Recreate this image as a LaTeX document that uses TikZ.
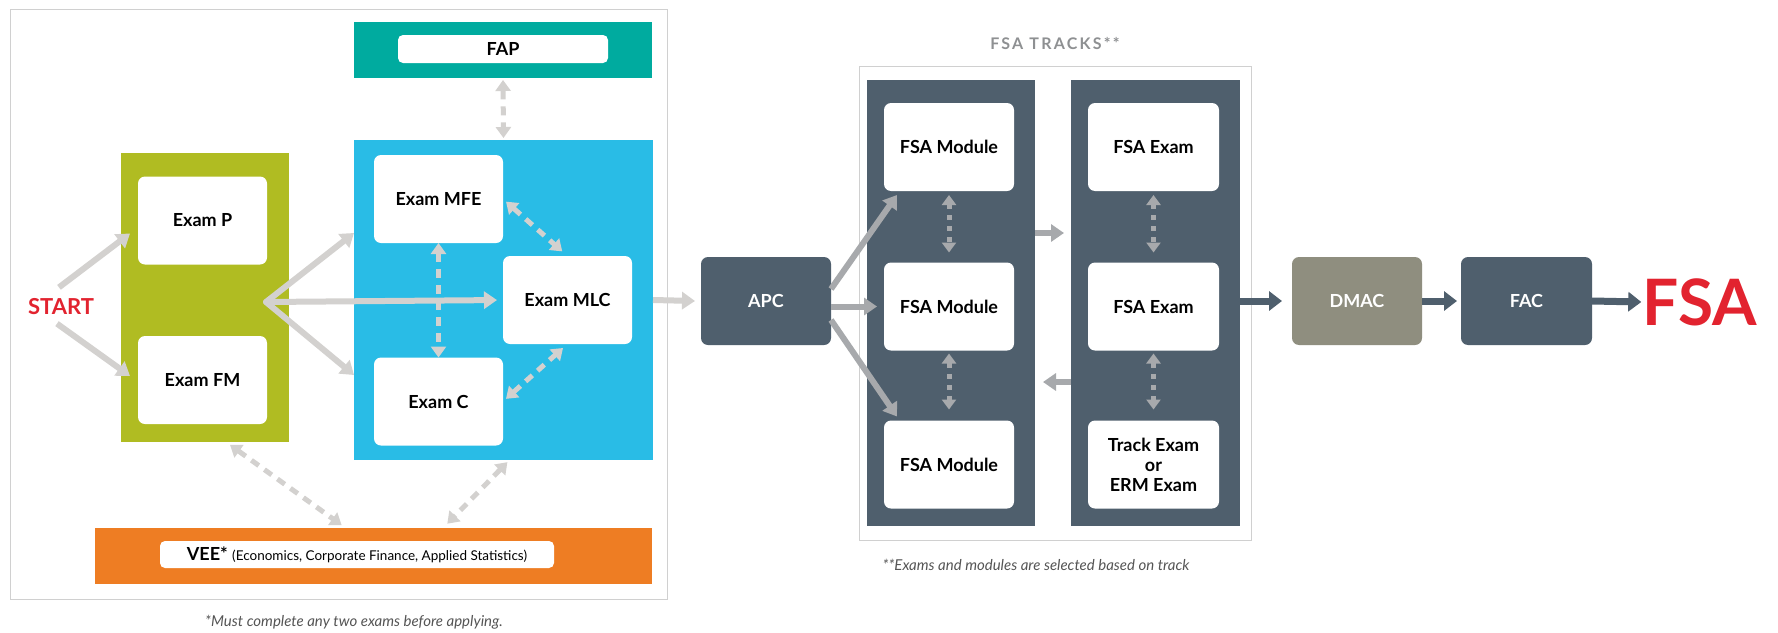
\documentclass[tikz,border=0pt]{standalone}
\usepackage{fontspec}
\setmainfont{Lato}
\usetikzlibrary{positioning}
\usetikzlibrary{arrows.meta}
\usetikzlibrary{calc}

\definecolor{limegreen}{HTML}{B0BC22}
\definecolor{skyblue}{HTML}{29BCE6}
\definecolor{fapteal}{HTML}{00AB9F}
\definecolor{veeorange}{HTML}{EE7D23}
\definecolor{slate}{HTML}{4F5F6D}
\definecolor{dmacgrey}{HTML}{8F8E7F}
\definecolor{lightarrow}{HTML}{D3D1CF}
\definecolor{trackarrow}{HTML}{A7A9AC}
\definecolor{fsared}{HTML}{E2232F}
\definecolor{framegrey}{HTML}{D0D0D0}
\definecolor{notegrey}{HTML}{555555}

\tikzset{
  panel/.style={inner sep=0pt, outer sep=0pt},
  exambox/.style={fill=white, rounded corners=7pt, inner sep=0pt, outer sep=0pt,
    minimum width=129pt, minimum height=88pt, align=center,
    font=\fontsize{18}{21}\selectfont\bfseries},
  darkbox/.style={exambox, fill=slate, text=white, minimum width=130pt},
  flow/.style={draw=lightarrow, line width=6pt, -{Triangle[width=17pt,length=13pt]}},
  dflow/.style={draw=lightarrow, line width=5pt, dash pattern=on 9pt off 7pt,
    {Triangle[width=15pt,length=11pt]}-{Triangle[width=15pt,length=11pt]}},
  trackflow/.style={draw=trackarrow, line width=6pt, -{Triangle[width=17pt,length=13pt]}},
  dotflow/.style={draw=trackarrow, line width=5pt, dash pattern=on 5pt off 6pt,
    {Triangle[width=14pt,length=10pt]}-{Triangle[width=14pt,length=10pt]}},
  darkflow/.style={draw=slate, line width=7pt, -{Triangle[width=19pt,length=13pt]}},
  note/.style={text=notegrey, font=\fontsize{15}{18}\selectfont\itshape}
}

\begin{document}
\begin{tikzpicture}[x=1pt, y=-1pt]
  \useasboundingbox (0,0) rectangle (1778,632);
  \fill[white] (0,0) rectangle (1778,632);

  % associate part
  \draw[framegrey, line width=1pt] (10,9) rectangle (667,599);
  \node[panel, fill=fapteal, minimum width=298pt, minimum height=56pt] (fapbar) at (503,50) {};
  \node[exambox, minimum width=210pt, minimum height=28pt, rounded corners=5pt] (fap) at (503,49) {FAP};
  \node[panel, fill=skyblue, minimum width=299pt, minimum height=320pt] (blue) at (503.5,300) {};
  \node[panel, fill=limegreen, minimum width=168pt, minimum height=289pt] (green) at (205,297.5) {};
  \node[panel, fill=veeorange, minimum width=557pt, minimum height=56pt] (orange) at (373.5,556) {};
  \node[exambox, minimum width=394pt, minimum height=27pt, rounded corners=5pt] (vee) at (357,554.5)
    {VEE* {\mdseries\fontsize{13.5}{16}\selectfont(Economics, Corporate Finance, Applied Statistics)}};

  \node[exambox] (examp) at (202.5,220.5) {Exam P};
  \node[exambox] (examfm) at (202.5,380) {Exam FM};
  \node[exambox] (mfe) at (438.5,199) {Exam MFE};
  \node[exambox] (examc) at (438.5,401.5) {Exam C};
  \node[exambox] (mlc) at (567.5,300) {Exam MLC};
  \node[text=fsared, font=\fontsize{22}{26}\selectfont\bfseries] (start) at (61,307) {START};

  \coordinate (fan) at (266,302);
  \draw[flow] ($(start.north)+(-2,-8)$) -- ($(examp.south west)+(-8,-31)$);
  \draw[flow] ($(start.south)+(-4,5)$) -- ($(examfm.west)+(-8,-4)$);
  \draw[flow, line cap=round] (fan) -- (blue.west |- 0,233);
  \draw[flow, line cap=round] (fan) -- (blue.west |- 0,375);
  \draw[flow, shorten >=6pt] (fan) -- (mlc.west);

  \draw[dflow] (mfe.south) -- (examc.north);
  \draw[dflow, shorten <=4pt, shorten >=7pt] (mfe.east) -- (mlc.north);
  \draw[dflow, shorten <=4pt, shorten >=6pt] (examc.east) -- (mlc.south);
  \draw[dflow, shorten <=2pt, shorten >=2pt] (fapbar.south) -- (blue.north);
  \draw[dflow, shorten <=5pt, shorten >=5pt] ($(green.south)!0.25!(green.south east)$)
    -- ($(orange.north west)!0.45!(orange.north east)$);
  \draw[dflow, shorten <=3pt, shorten >=6pt] ($(blue.south west)!0.52!(blue.south east)$)
    -- ($(orange.north west)!0.625!(orange.north east)$);

  \node[note] (note1) at (354,622) {*Must complete any two exams before applying.};

  % fellowship part
  \node[darkbox] (apc) at (766,301) {APC};
  \draw[flow] (blue.east |- mlc) -- ($(apc.west)+(-6,0)$);

  \node[text=trackarrow!85!black, font=\fontsize{16}{19}\selectfont\bfseries\addfontfeatures{LetterSpace=14}] (tracks) at (1055,43) {FSA TRACKS**};
  \draw[framegrey, line width=1pt] (859,66) rectangle (1251,540);
  \node[panel, fill=slate, minimum width=168pt, minimum height=446pt] (modcol) at (951,303) {};
  \node[panel, fill=slate, minimum width=169pt, minimum height=446pt] (excol) at (1155.5,303) {};

  \node[exambox, minimum width=130pt] (mod1) at (949,147) {FSA Module};
  \node[exambox, minimum width=130pt] (mod2) at (949,306.5) {FSA Module};
  \node[exambox, minimum width=130pt] (mod3) at (949,464.5) {FSA Module};
  \node[exambox, minimum width=131pt] (ex1) at (1153.5,147) {FSA Exam};
  \node[exambox, minimum width=131pt] (ex2) at (1153.5,306.5) {FSA Exam};
  \node[exambox, minimum width=131pt, font=\fontsize{18}{20}\selectfont\bfseries] (ex3) at (1153.5,464.5) {Track Exam\\or\\ERM Exam};

  \draw[trackflow] ($(apc.east)+(0,-12)$) -- ($(mod1.south west)+(13,4)$);
  \draw[trackflow, shorten >=7pt] (apc.east |- mod2) -- (mod2.west);
  \draw[trackflow] ($(apc.east)+(0,19)$) -- ($(mod3.north west)+(13,-4)$);

  \draw[dotflow, shorten <=4pt, shorten >=10pt] (mod1.south) -- (mod2.north);
  \draw[dotflow, shorten <=3pt, shorten >=11pt] (mod2.south) -- (mod3.north);
  \draw[dotflow, shorten <=4pt, shorten >=10pt] (ex1.south) -- (ex2.north);
  \draw[dotflow, shorten <=3pt, shorten >=11pt] (ex2.south) -- (ex3.north);

  \coordinate (gapup) at (1053,233);
  \coordinate (gapdown) at (1053,382);
  \draw[trackflow, shorten >=7pt] (modcol.east |- gapup) -- (excol.west |- gapup);
  \draw[trackflow, shorten >=8pt] (excol.west |- gapdown) -- (modcol.east |- gapdown);

  \node[note] (note2) at (1036,565) {**Exams and modules are selected based on track};

  \node[darkbox, fill=dmacgrey] (dmac) at (1357,301) {DMAC};
  \node[darkbox, minimum width=131pt] (fac) at (1526.5,301) {FAC};
  \node[text=fsared, font=\fontsize{64}{70}\selectfont\bfseries] (fsa) at (1700,302) {FSA};

  \draw[darkflow, shorten >=10pt] (excol.east |- dmac) -- (dmac.west);
  \draw[darkflow, shorten >=4pt] (dmac.east) -- (fac.west);
  \draw[darkflow] (fac.east) -- ($(fsa.west)+(2,0)$);
\end{tikzpicture}
\end{document}
